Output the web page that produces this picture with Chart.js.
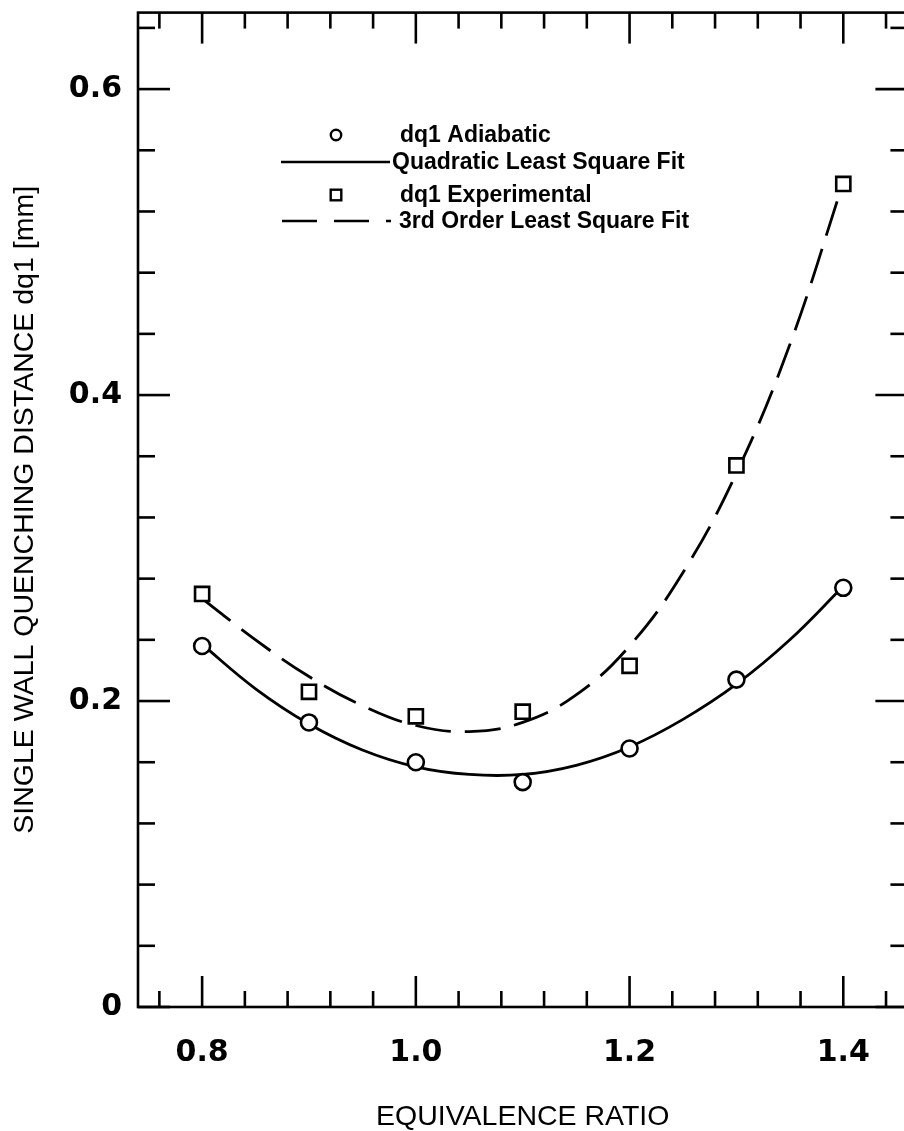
<!DOCTYPE html>
<html>
<head>
<meta charset="utf-8">
<script src="https://cdn.jsdelivr.net/npm/chart.js@4.4.1/dist/chart.umd.min.js"></script>
<style>
html,body{margin:0;padding:0;background:#fff;overflow:hidden;width:904px;height:1131px}
#wrap{position:absolute;left:0;top:0;width:920px;height:1131px}
</style>
</head>
<body>
<div id="wrap"><canvas id="c" width="920" height="1131"></canvas></div>
<script>
// ---- data ----
const phi = [0.8, 0.9, 1.0, 1.1, 1.2, 1.3, 1.4];
const dqAdiabatic = [0.236, 0.186, 0.160, 0.147, 0.169, 0.214, 0.274];
const dqExperimental = [0.270, 0.206, 0.190, 0.193, 0.223, 0.354, 0.538];
const phiFit = [0.80, 0.85, 0.90, 0.95, 1.00, 1.05, 1.10, 1.15, 1.20, 1.25, 1.30, 1.35, 1.40];
const quadraticFit = [0.237, 0.208, 0.185, 0.168, 0.157, 0.152, 0.152, 0.158, 0.170, 0.188, 0.211, 0.240, 0.275];
const cubicFit = [0.267, 0.240, 0.216, 0.197, 0.184, 0.180, 0.186, 0.204, 0.236, 0.284, 0.349, 0.433, 0.539];
const seriesLabels = ['dq1 Adiabatic', 'Quadratic Least Square Fit', 'dq1 Experimental', '3rd Order Least Square Fit'];
const xMajorTicks = [0.8, 1.0, 1.2, 1.4];
const xTickLabels = ['0.8', '1.0', '1.2', '1.4'];
const yMajorTicks = [0, 0.2, 0.4, 0.6];
const yTickLabels = ['0', '0.2', '0.4', '0.6'];
const xTitle = 'EQUIVALENCE RATIO';
const yTitle = 'SINGLE WALL QUENCHING DISTANCE dq1 [mm]';

// ---- styling / layout ----
const INK = '#000';
const tickFont = {family: 'DejaVu Sans', weight: 'bold', size: 30};
const titleFont = {family: 'Liberation Sans', size: 28.5, lineHeight: 1};
const legendFont = 'bold 23px "Liberation Sans"';
const xMinorStep = 0.04, yMinorStep = 0.04;
const legendLayout = {lineX0: 281, lineX1: 390, markX: 336, textX: [400, 392, 400, 399], rowY: [135, 162, 195, 221]};

const pts = (xs, ys) => xs.map((v, i) => ({x: v, y: ys[i]}));

function minorValues(min, max, step) {
  const out = [];
  const n0 = Math.ceil(min / step - 1e-9), n1 = Math.floor(max / step + 1e-9);
  for (let k = n0; k <= n1; k++) out.push(+(k * step).toFixed(4));
  return out;
}

const framePlugin = {
  id: 'frame',
  afterDraw(chart) {
    const {ctx, chartArea: a, scales: {x, y}} = chart;
    ctx.save();
    ctx.strokeStyle = INK;
    ctx.lineWidth = 2.6;
    ctx.lineCap = 'butt';
    ctx.strokeRect(a.left, a.top, a.right - a.left, a.bottom - a.top);
    const seg = (x1, y1, x2, y2) => { ctx.beginPath(); ctx.moveTo(x1, y1); ctx.lineTo(x2, y2); ctx.stroke(); };
    const isMajor = (v, majors) => majors.some(m => Math.abs(m - v) < 1e-6);
    minorValues(x.min, x.max, xMinorStep).forEach(v => {
      const px = x.getPixelForValue(v);
      const L = isMajor(v, xMajorTicks) ? 31 : 16;
      seg(px, a.bottom, px, a.bottom - L);
      seg(px, a.top, px, a.top + L);
    });
    minorValues(y.min, y.max, yMinorStep).forEach(v => {
      const py = y.getPixelForValue(v);
      const L = isMajor(v, yMajorTicks) ? 32 : 17;
      seg(a.left, py, a.left + L, py);
      seg(a.right, py, a.right - L, py);
    });

    // legend
    const Lg = legendLayout;
    ctx.lineWidth = 2.4;
    // row 1: circle
    ctx.beginPath(); ctx.arc(Lg.markX, Lg.rowY[0], 5.2, 0, Math.PI * 2); ctx.stroke();
    // row 2: solid line
    ctx.lineWidth = 2.6;
    seg(Lg.lineX0, Lg.rowY[1], Lg.lineX1, Lg.rowY[1]);
    // row 3: square
    ctx.lineWidth = 2.4;
    ctx.strokeRect(Lg.markX - 5.3, Lg.rowY[2] - 5.3, 10.6, 10.6);
    // row 4: dashed line
    ctx.lineWidth = 2.6;
    ctx.setLineDash([35, 17]);
    seg(Lg.lineX0 + 1, Lg.rowY[3], Lg.lineX1 + 1, Lg.rowY[3]);
    ctx.setLineDash([]);
    ctx.fillStyle = INK;
    ctx.font = legendFont;
    ctx.textBaseline = 'middle';
    ctx.textAlign = 'left';
    seriesLabels.forEach((t, i) => ctx.fillText(t, Lg.textX[i], Lg.rowY[i] + 1));
    ctx.restore();
  }
};

new Chart(document.getElementById('c'), {
  type: 'scatter',
  data: {
    datasets: [
      {label: seriesLabels[0], data: pts(phi, dqAdiabatic), showLine: false, pointStyle: 'circle',
       pointRadius: 8, pointBorderWidth: 2.6, pointBackgroundColor: '#fff', pointBorderColor: INK},
      {label: seriesLabels[2], data: pts(phi, dqExperimental), showLine: false, pointStyle: 'rect',
       pointRadius: 10, pointBorderWidth: 2.6, pointBackgroundColor: '#fff', pointBorderColor: INK},
      {label: seriesLabels[1], data: pts(phiFit, quadraticFit), showLine: true, pointRadius: 0,
       borderColor: INK, borderWidth: 2.8, tension: 0.4, fill: false},
      {label: seriesLabels[3], data: pts(phiFit, cubicFit), showLine: true, pointRadius: 0,
       borderColor: INK, borderWidth: 2.8, borderDash: [36, 14], tension: 0.4, fill: false}
    ]
  },
  options: {
    responsive: false,
    animation: false,
    events: [],
    devicePixelRatio: 1,
    layout: {padding: {left: 0, top: 8, right: 10, bottom: 0}},
    plugins: {legend: {display: false}, tooltip: {enabled: false}},
    scales: {
      x: {
        type: 'linear', min: 0.74, max: 1.46,
        afterBuildTicks: s => { s.ticks = xMajorTicks.map(v => ({value: v})); },
        ticks: {callback: (v, i) => xTickLabels[i], font: tickFont, color: INK, padding: 28, maxRotation: 0, autoSkip: false},
        grid: {display: false, drawTicks: false},
        border: {display: false},
        title: {display: true, text: xTitle, font: titleFont, color: INK, padding: {top: 0, bottom: 0}},
        afterFit: s => { s.height = 124; s.paddingLeft = 0; s.paddingRight = 0; }
      },
      y: {
        type: 'linear', min: 0, max: 0.65,
        afterBuildTicks: s => { s.ticks = yMajorTicks.map(v => ({value: v})); },
        ticks: {callback: (v, i) => yTickLabels[i], font: tickFont, color: INK, padding: 16, autoSkip: false},
        grid: {display: false, drawTicks: false},
        border: {display: false},
        title: {display: true, text: yTitle, font: titleFont, color: INK, padding: {top: 11, bottom: 0}},
        afterFit: s => { s.width = 138; s.paddingTop = 0; s.paddingBottom = 0; }
      }
    }
  },
  plugins: [framePlugin]
});
</script>
</body>
</html>
